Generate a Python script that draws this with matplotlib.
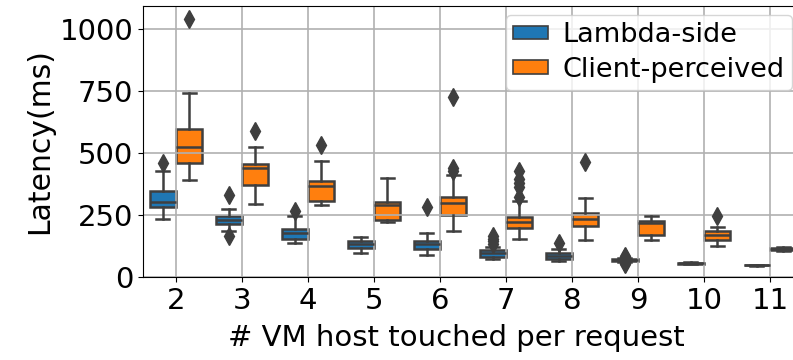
import matplotlib
matplotlib.use("Agg")
import matplotlib.pyplot as plt

# number of VM hosts touched per request
categories = [2, 3, 4, 5, 6, 7, 8, 9, 10, 11]

# Lambda-side latency (ms): whisker low, Q1, median, Q3, whisker high, outliers
lam_lo = [234, 185, 137, 95, 89, 73, 63, 60, 51, 46]
lam_q1 = [281, 215, 152, 117, 112, 82, 71, 63, 53, 47]
lam_med = [304, 230, 179, 133, 132, 97, 86, 68, 55, 48]
lam_q3 = [348, 245, 195, 146, 144, 109, 95, 72, 57, 49]
lam_hi = [427, 273, 245, 163, 179, 122, 113, 76, 59, 50]
lam_fliers = [[461], [331, 165], [267], [], [281], [135, 145, 155, 165],
              [138], [84, 80, 56, 52], [], []]

# client-perceived latency (ms)
cli_lo = [391, 294, 289, 220, 187, 154, 150, 148, 125, 104]
cli_q1 = [458, 371, 306, 230, 250, 199, 204, 171, 149, 108]
cli_med = [525, 441, 368, 290, 298, 220, 232, 218, 171, 113]
cli_q3 = [595, 457, 387, 304, 321, 243, 260, 227, 187, 117]
cli_hi = [743, 525, 466, 401, 411, 308, 318, 247, 203, 121]
cli_fliers = [[1040], [589], [534], [], [726, 438, 428],
              [428, 395, 380, 365, 322], [465], [], [246], []]

series = [
    ("Lambda-side", "#1f77b4", lam_lo, lam_q1, lam_med, lam_q3, lam_hi, lam_fliers),
    ("Client-perceived", "#ff7f0e", cli_lo, cli_q1, cli_med, cli_q3, cli_hi, cli_fliers),
]

plt.rcParams["font.family"] = "DejaVu Sans"
plt.rcParams["font.size"] = 21

fig = plt.figure(figsize=(7.93, 3.6), dpi=100)
ax = fig.add_axes([143 / 793, 1 - 277 / 360, 660 / 793, 271 / 360])

gray = "#3f3f3f"
handles = []
for k, (name, color, lo, q1, med, q3, hi, fl) in enumerate(series):
    stats = []
    for i in range(len(categories)):
        stats.append({"whislo": lo[i], "q1": q1[i], "med": med[i], "q3": q3[i],
                      "whishi": hi[i], "fliers": fl[i]})
    offset = -0.2 if k == 0 else 0.2
    pos = [i + offset for i in range(len(categories))]
    bp = ax.bxp(stats, positions=pos, widths=0.39, patch_artist=True,
                boxprops=dict(facecolor=color, edgecolor=gray, linewidth=1.8),
                medianprops=dict(color=gray, linewidth=1.8),
                whiskerprops=dict(color=gray, linewidth=1.8),
                capprops=dict(color=gray, linewidth=1.8),
                flierprops=dict(marker="d", markerfacecolor=gray,
                                markeredgecolor=gray, markersize=9),
                capwidths=0.2)
    for b in bp["boxes"]:
        b.set_zorder(1)
    handles.append(plt.Rectangle((0, 0), 1, 1, facecolor=color, edgecolor=gray,
                                 linewidth=1.2, label=name))

ax.set_xticks(range(len(categories)))
ax.set_xticklabels([str(c) for c in categories])
ax.set_xlim(-0.5, len(categories) - 0.5)
ax.set_ylim(0, 1093)
ax.set_yticks([0, 250, 500, 750, 1000])
ax.grid(True, color="#b0b0b0", linewidth=1.2, zorder=1.5)
ax.set_axisbelow("line")

ax.set_xlabel("# VM host touched per request")
ax.xaxis.set_label_coords((456 - 143) / 660, -0.175)
ax.set_ylabel("Latency(ms)", fontsize=21.5)

ax.legend(handles=handles, loc="upper right", bbox_to_anchor=(792 / 793, 1 - 15 / 360),
          bbox_transform=fig.transFigure, borderaxespad=0, handlelength=1.3,
          handleheight=0.4, handletextpad=0.55, fontsize=19.5, labelspacing=0.33,
          borderpad=0.26)

fig.savefig("out.png", dpi=100)
